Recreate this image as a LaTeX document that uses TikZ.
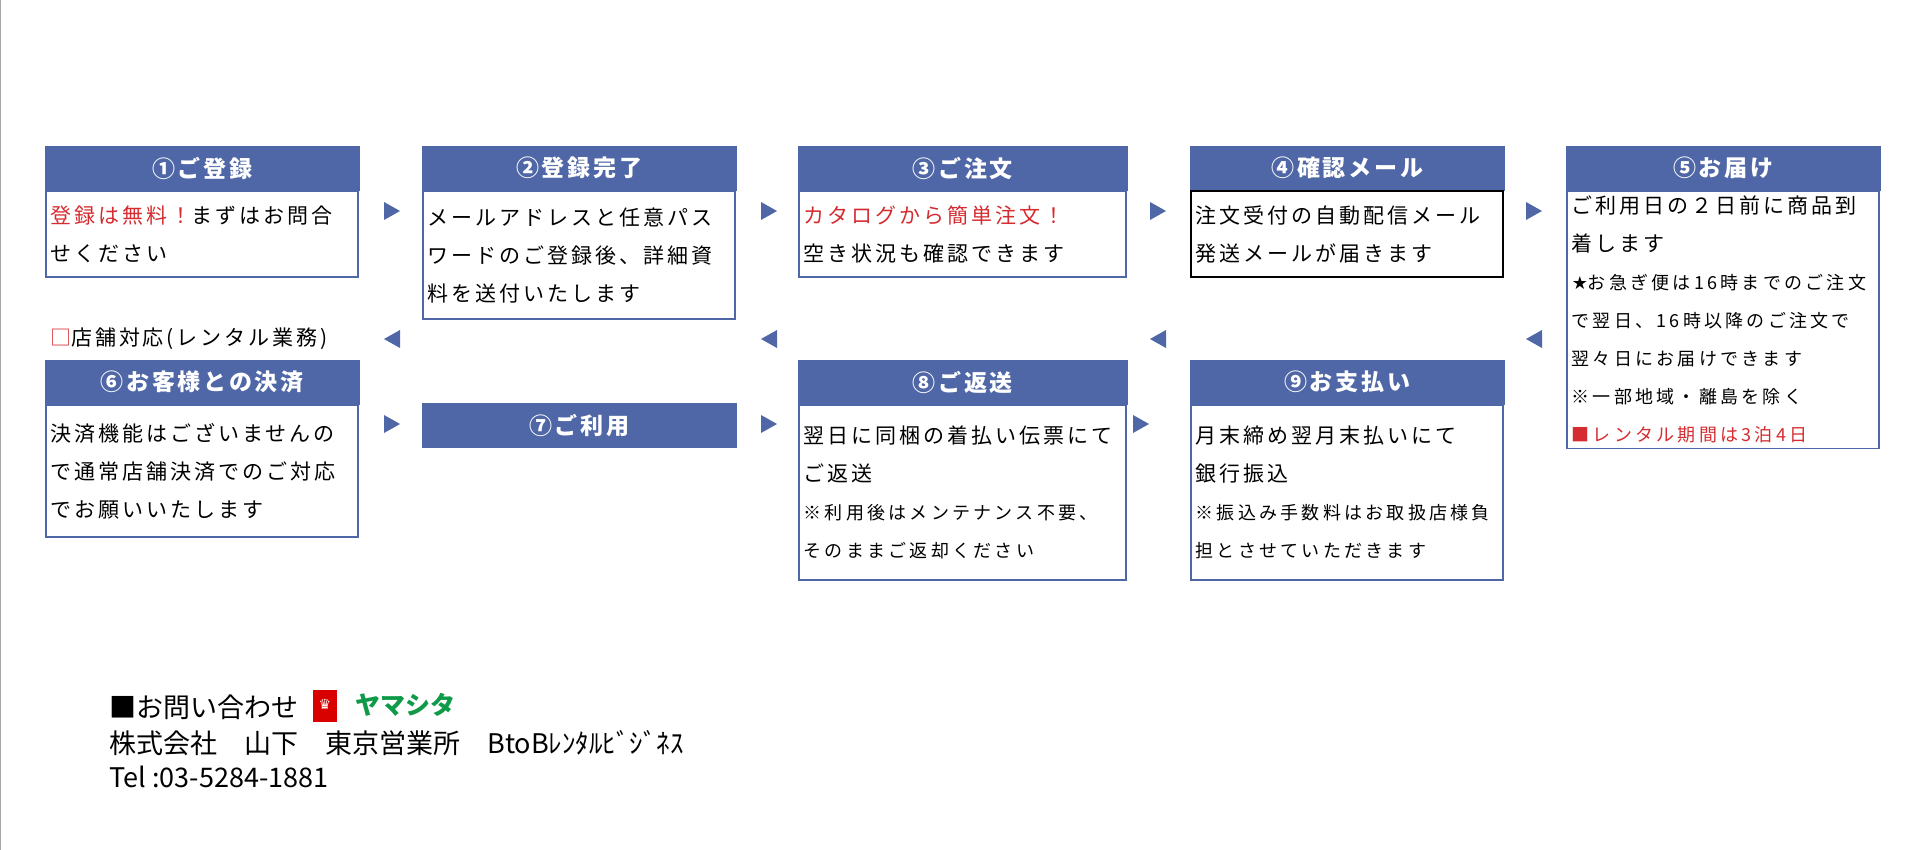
\documentclass[tikz,border=0pt]{standalone}
\usepackage{fontspec}
\setmainfont{Noto Sans CJK JP}
\newfontfamily\symfont{DejaVu Sans}
\usetikzlibrary{positioning}
\definecolor{hdblue}{HTML}{4F67A6}
\definecolor{txred}{HTML}{D42C30}
\definecolor{logogreen}{HTML}{0E9A48}
\tikzset{
	hd/.style={fill=hdblue, draw=hdblue, text=white, font=\fontsize{23}{26}\selectfont\bfseries\addfontfeature{LetterSpace=12}, minimum height=44pt, inner sep=0pt},
	bd/.style={draw=hdblue, line width=1.5pt, anchor=north west, align=left, text width=#1, inner sep=5pt, font=\fontsize{21}{38}\selectfont\addfontfeature{LetterSpace=14}},
}
\newcommand{\rtri}[2]{\fill[hdblue] (#1-8,#2-9) -- (#1+8,#2) -- (#1-8,#2+9) -- cycle;}
\newcommand{\ltri}[2]{\fill[hdblue] (#1+8,#2-9) -- (#1-8,#2) -- (#1+8,#2+9) -- cycle;}
\newcommand{\smallline}{\fontsize{18}{34}\selectfont\addfontfeature{LetterSpace=18}}
\begin{document}
\begin{tikzpicture}[x=1pt,y=-1pt]
	\useasboundingbox (0,0) rectangle (1920,850);
	\draw[gray!70, line width=1.5pt] (0,0) -- (0,850);

	% top row
	\node[hd, minimum width=314pt, anchor=north west] (h1) at (45,146) {①ご登録};
	\node[bd=302pt, minimum height=86pt] (b1) at (h1.south west) {\textcolor{txred}{登録は無料！}まずはお問合\\せください};
	\node[hd, minimum width=314pt, anchor=north west] (h2) at (422,146) {②登録完了};
	\node[bd=302pt, minimum height=128pt] (b2) at (h2.south west) {メールアドレスと任意パス\\ワードのご登録後、詳細資\\料を送付いたします};
	\node[hd, minimum width=329pt, anchor=north west] (h3) at (798,146) {③ご注文};
	\node[bd=317pt, minimum height=86pt] (b3) at (h3.south west) {\textcolor{txred}{カタログから簡単注文！}\\空き状況も確認できます};
	\node[hd, minimum width=314pt, anchor=north west] (h4) at (1190,146) {④確認メール};
	\node[bd=302pt, minimum height=86pt, draw=black] (b4) at (h4.south west) {注文受付の自動配信メール\\発送メールが届きます};
	\node[hd, minimum width=314pt, anchor=north west] (h5) at (1566,146) {⑤お届け};
	\node[bd=302pt, minimum height=257pt] (b5) at (h5.south west) {ご利用日の２日前に商品到\\着します\\{\smallline{\symfont ★}お急ぎ便は16時までのご注文}\\{\smallline で翌日、16時以降のご注文で}\\{\smallline 翌々日にお届けできます}\\{\smallline ※一部地域・離島を除く}\\\textcolor{txred}{\smallline ■レンタル期間は3泊4日}};

	\foreach \x in {392,769,1158,1534}{\rtri{\x}{211}}
	\foreach \x in {392,769,1158,1534}{\ltri{\x}{339}}

	% bottom row
	\node[anchor=west, inner sep=0pt, font=\fontsize{21}{24}\selectfont\addfontfeature{LetterSpace=14}] (shop) at (50,339) {\textcolor{txred}{□}店舗対応(レンタル業務)};
	\node[hd, minimum width=314pt, anchor=north west] (h6) at (45,360) {⑥お客様との決済};
	\node[bd=302pt, minimum height=132pt] (b6) at (h6.south west) {決済機能はございませんの\\で通常店舗決済でのご対応\\でお願いいたします};
	\node[hd, minimum width=314pt, anchor=north west] (h7) at (422,403) {⑦ご利用};
	\node[hd, minimum width=329pt, anchor=north west] (h8) at (798,360) {⑧ご返送};
	\node[bd=317pt, minimum height=175pt] (b8) at (h8.south west) {翌日に同梱の着払い伝票にて\\ご返送\\{\smallline ※利用後はメンテナンス不要、}\\{\smallline そのままご返却ください}};
	\node[hd, minimum width=314pt, anchor=north west] (h9) at (1190,360) {⑨お支払い};
	\node[bd=302pt, minimum height=175pt] (b9) at (h9.south west) {月末締め翌月末払いにて\\銀行振込\\{\smallline ※振込み手数料はお取扱店様負}\\{\smallline 担とさせていただきます}};

	\foreach \x in {392,769,1141}{\rtri{\x}{424}}

	% contact
	\node[anchor=west, font=\fontsize{27}{30}\selectfont] (q) at (106,707) {■お問い合わせ};
	\fill[red!85!black] (313,690) rectangle (337,722);
	\node[text=white, font=\fontsize{14}{14}\selectfont\bfseries, inner sep=0pt] (crown) at (325,704) {{\symfont ♛}};
	\node[anchor=west, text=logogreen, font=\fontsize{25}{28}\selectfont\bfseries, inner sep=0pt] (logo) at (355,705) {ヤマシタ};
	\node[anchor=west, font=\fontsize{27}{30}\selectfont] (co) at (106,743) {株式会社\quad 山下\quad 東京営業所\quad BtoBﾚﾝﾀﾙﾋﾞｼﾞﾈｽ};
	\node[anchor=west, font=\fontsize{27}{30}\selectfont] (tel) at (106,777) {Tel :03-5284-1881};
\end{tikzpicture}
\end{document}
